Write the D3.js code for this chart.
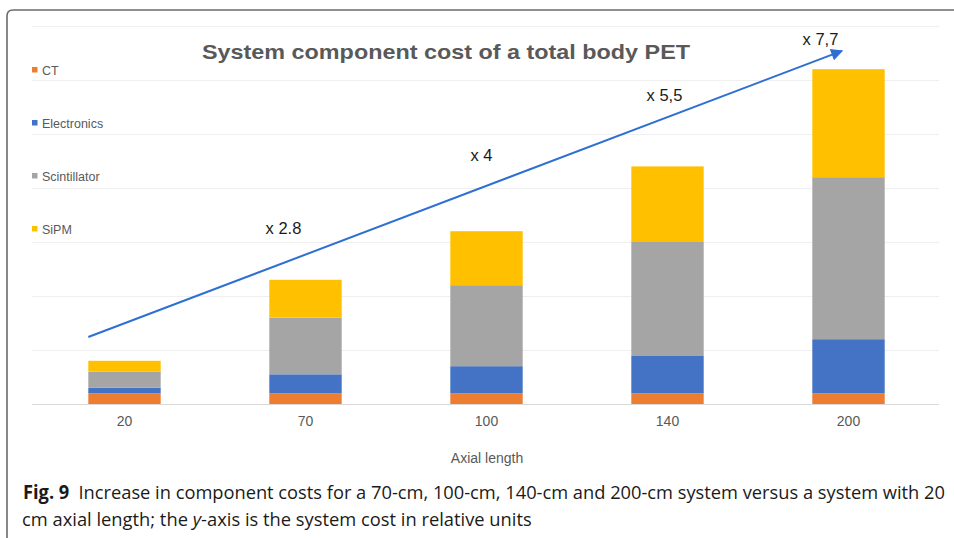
<!DOCTYPE html>
<html>
<head>
<meta charset="utf-8">
<script src="https://cdn.jsdelivr.net/npm/d3@7"></script>
<style>
  body { margin: 0; background: #fff; }
  svg { display: block; }
</style>
</head>
<body>
<svg width="954" height="538"></svg>
<script>
// axial length categories (cm)
var lengths = ["20", "70", "100", "140", "200"];
var series = ["CT", "Electronics", "Scintillator", "SiPM"];
// relative cost per component (one gridline = 1 unit)
var ct           = [0.2, 0.2, 0.2, 0.2, 0.2];
var electronics  = [0.1, 0.35, 0.5, 0.7, 1.0];
var scintillator = [0.3, 1.05, 1.5, 2.1, 3.0];
var sipm         = [0.2, 0.7, 1.0, 1.4, 2.0];
var colors = ["#ED7D31", "#4472C4", "#A5A5A5", "#FFC000"];
var gridTicks = [0, 1, 2, 3, 4, 5, 6, 7];
// factor labels over the trend arrow: category, y value, shift
var factors = [
  { cat: "70", label: "x 2.8", v: 3.26, dx: -22 },
  { cat: "100", label: "x 4", v: 4.61, dx: -5 },
  { cat: "140", label: "x 5,5", v: 5.72, dx: -3 },
  { cat: "200", label: "x 7,7", v: 6.76, dx: -28 }
];
var arrowFrom = { cat: "20", frac: 0.0, v: 1.24 };
var arrowTo = { cat: "200", frac: 0.41, v: 6.54 };

var table = lengths.map(function(d, i) {
  return { len: d, CT: ct[i], Electronics: electronics[i], Scintillator: scintillator[i], SiPM: sipm[i] };
});

var svg = d3.select("svg");

// frame round the figure
svg.append("path")
    .attr("d", "M7,545 L7,16 Q7,10 13,10 L960,10")
    .attr("fill", "none")
    .attr("stroke", "#6b6b6b")
    .attr("stroke-width", 1.6);

var x = d3.scaleBand()
    .domain(lengths)
    .range([34, 939])
    .paddingInner(0.6)
    .paddingOuter(0.3);

var y = d3.scaleLinear()
    .domain([0, 7])
    .range([404, 26]);

// gridlines
svg.append("g")
    .selectAll("line")
    .data(gridTicks)
    .enter().append("line")
      .attr("x1", 32)
      .attr("x2", 939)
      .attr("y1", function(d) { return y(d) + 0.5; })
      .attr("y2", function(d) { return y(d) + 0.5; })
      .attr("stroke", function(d) { return d == 0 ? "#d9d9d9" : "#efefef"; })
      .attr("stroke-width", 1);

var stack = d3.stack().keys(series);
var layers = stack(table);

svg.append("g")
    .selectAll("g")
    .data(layers)
    .enter().append("g")
      .attr("fill", function(d, i) { return colors[i]; })
    .selectAll("rect")
    .data(function(d) { return d; })
    .enter().append("rect")
      .attr("x", function(d) { return x(d.data.len); })
      .attr("width", x.bandwidth())
      .attr("y", function(d) { return y(d[1]); })
      .attr("height", function(d) { return y(d[0]) - y(d[1]); });

// x axis labels
var xAxis = svg.append("g")
    .attr("transform", "translate(0,404)")
    .call(d3.axisBottom(x).tickSize(0).tickPadding(12));
xAxis.select(".domain").remove();
xAxis.selectAll("text")
    .attr("font-family", "Liberation Sans, Arial, sans-serif")
    .attr("font-size", 14)
    .attr("fill", "#595959");

svg.append("text")
    .attr("x", 487)
    .attr("y", 463)
    .attr("text-anchor", "middle")
    .attr("font-family", "Liberation Sans, Arial, sans-serif")
    .attr("font-size", 14)
    .attr("fill", "#595959")
    .text("Axial length");

// title
svg.append("text")
    .attr("x", 446)
    .attr("y", 59)
    .attr("text-anchor", "middle")
    .attr("font-family", "Liberation Sans, Arial, sans-serif")
    .attr("font-weight", "bold")
    .attr("font-size", 21)
    .attr("fill", "#595959")
    .attr("textLength", 488)
    .attr("lengthAdjust", "spacingAndGlyphs")
    .text("System component cost of a total body PET");

// legend (stacked top-down)
var legend = svg.append("g")
    .selectAll("g")
    .data(series)
    .enter().append("g")
      .attr("transform", function(d, i) { return "translate(32," + (70 + i * 53) + ")"; });
legend.append("rect")
    .attr("y", -3)
    .attr("width", 5.5)
    .attr("height", 5.5)
    .attr("fill", function(d, i) { return colors[i]; });
legend.append("text")
    .attr("x", 10)
    .attr("y", 4.5)
    .attr("font-family", "Liberation Sans, Arial, sans-serif")
    .attr("font-size", 12.5)
    .attr("fill", "#595959")
    .text(function(d) { return d; });

// trend arrow
svg.append("defs").append("marker")
    .attr("id", "head")
    .attr("viewBox", "0 0 10 10")
    .attr("refX", 9)
    .attr("refY", 5)
    .attr("markerWidth", 6.5)
    .attr("markerHeight", 6)
    .attr("markerUnits", "strokeWidth")
    .attr("orient", "auto")
  .append("path")
    .attr("d", "M0,0 L10,5 L0,10 Z")
    .attr("fill", "#2E6FD3");

svg.append("line")
    .attr("x1", x(arrowFrom.cat) + x.bandwidth() * arrowFrom.frac)
    .attr("y1", y(arrowFrom.v))
    .attr("x2", x(arrowTo.cat) + x.bandwidth() * arrowTo.frac)
    .attr("y2", y(arrowTo.v))
    .attr("stroke", "#2E6FD3")
    .attr("stroke-width", 2)
    .attr("marker-end", "url(#head)");

svg.append("g")
    .selectAll("text")
    .data(factors)
    .enter().append("text")
      .attr("x", function(d) { return x(d.cat) + x.bandwidth() / 2 + d.dx; })
      .attr("y", function(d) { return y(d.v) + 6; })
      .attr("text-anchor", "middle")
      .attr("font-family", "Liberation Sans, Arial, sans-serif")
      .attr("font-size", 16.5)
      .attr("fill", "#1a1a1a")
      .text(function(d) { return d.label; });

// caption: the journal font is condensed, so squeeze each line horizontally
var cap = svg.append("g")
    .attr("font-family", "Open Sans, Noto Sans, sans-serif")
    .attr("font-size", 19)
    .attr("fill", "#1a1a1a");
function capLine(parts, xPos, yPos, width) {
  var t = cap.append("text");
  parts.forEach(function(p) {
    var s = t.append("tspan").text(p[0]);
    if (p[1] == "bold") s.attr("font-weight", "bold");
    if (p[1] == "italic") s.attr("font-style", "italic");
  });
  var w = t.node().getComputedTextLength();
  t.attr("transform", "translate(" + xPos + "," + yPos + ") scale(" + (width / w) + ",1)");
}
capLine([["Fig. 9", "bold"], ["\u2002Increase in component costs for a 70-cm, 100-cm, 140-cm and 200-cm system versus a system with 20"]], 23, 499, 923);
capLine([["cm axial length; the "], ["y", "italic"], ["-axis is the system cost in relative units"]], 22, 526, 510);
</script>
</body>
</html>
